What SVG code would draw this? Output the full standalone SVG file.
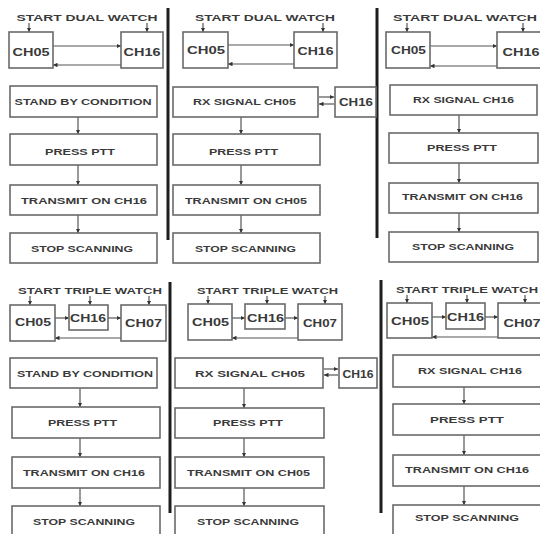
<svg xmlns="http://www.w3.org/2000/svg" width="540" height="534" viewBox="0 0 540 534">
<style>
.b{fill:#fff;stroke:#6a6a6a;stroke-width:1.6}
.c{fill:none;stroke:#555;stroke-width:1.2}
.d{stroke:#1e1e1e;stroke-width:3}
text{font-family:"Liberation Sans",Arial,sans-serif;font-weight:bold;fill:#3a3a3a;text-anchor:middle}
.t{font-size:8.5px}
.h{font-size:9.5px}
.k{font-size:10px}
</style>
<defs>
<marker id="ah" viewBox="0 0 6 6" refX="6" refY="3" markerWidth="4.5" markerHeight="4.5" orient="auto" markerUnits="userSpaceOnUse"><path d="M0,0 L6,3 L0,6 z" fill="#333"/></marker>
</defs>
<rect width="540" height="534" fill="#fff"/>
<g id="dividers">
<line class="d" x1="168" y1="8" x2="168" y2="240"/>
<line class="d" x1="377" y1="8" x2="377" y2="238"/>
<line class="d" x1="170" y1="282" x2="170" y2="513"/>
<line class="d" x1="381" y1="280" x2="381" y2="513"/>
</g>
<g id="connectors" class="c" marker-end="url(#ah)">
<!-- P1 -->
<line x1="29" y1="23" x2="29" y2="32"/><line x1="147" y1="23" x2="147" y2="32"/>
<line x1="53" y1="46" x2="121" y2="46"/><line x1="121" y1="65" x2="53" y2="65"/>
<line x1="78" y1="117" x2="78" y2="134"/><line x1="78" y1="165" x2="78" y2="185"/><line x1="78" y1="215" x2="78" y2="233"/>
<!-- P2 -->
<line x1="203" y1="23" x2="203" y2="32"/><line x1="323" y1="23" x2="323" y2="32"/>
<line x1="228" y1="45" x2="294" y2="45"/><line x1="294" y1="64" x2="228" y2="64"/>
<line x1="319" y1="97" x2="334" y2="97"/><line x1="334" y1="104" x2="319" y2="104"/>
<line x1="241" y1="117" x2="241" y2="134"/><line x1="241" y1="165" x2="241" y2="185"/><line x1="241" y1="215" x2="241" y2="233"/>
<!-- P3 -->
<line x1="407" y1="23" x2="407" y2="32"/><line x1="523" y1="23" x2="523" y2="32"/>
<line x1="430" y1="46" x2="497" y2="46"/><line x1="497" y1="66" x2="430" y2="66"/>
<line x1="459" y1="115" x2="459" y2="133"/><line x1="459" y1="163" x2="459" y2="183"/><line x1="459" y1="213" x2="459" y2="232"/>
<!-- P4 -->
<line x1="30" y1="296" x2="30" y2="305"/><line x1="90" y1="296" x2="90" y2="305"/><line x1="149" y1="296" x2="149" y2="305"/>
<line x1="55" y1="318" x2="69" y2="318"/><line x1="108" y1="318" x2="121" y2="318"/><line x1="121" y1="338" x2="55" y2="338"/>
<line x1="80" y1="388" x2="80" y2="407"/><line x1="80" y1="438" x2="80" y2="457"/><line x1="80" y1="488" x2="80" y2="506"/>
<!-- P5 -->
<line x1="208" y1="296" x2="208" y2="304"/><line x1="267" y1="296" x2="267" y2="304"/><line x1="325" y1="296" x2="325" y2="304"/>
<line x1="232" y1="318" x2="245" y2="318"/><line x1="285" y1="318" x2="298" y2="318"/><line x1="298" y1="338" x2="232" y2="338"/>
<line x1="324" y1="369" x2="338" y2="369"/><line x1="338" y1="375" x2="324" y2="375"/>
<line x1="244" y1="388" x2="244" y2="408"/><line x1="244" y1="438" x2="244" y2="457"/><line x1="244" y1="488" x2="244" y2="506"/>
<!-- P6 -->
<line x1="407" y1="295" x2="407" y2="303"/><line x1="467" y1="295" x2="467" y2="303"/><line x1="525" y1="295" x2="525" y2="303"/>
<line x1="432" y1="317" x2="446" y2="317"/><line x1="485" y1="317" x2="498" y2="317"/><line x1="498" y1="337" x2="432" y2="337"/>
<line x1="464" y1="387" x2="464" y2="404"/><line x1="464" y1="435" x2="464" y2="455"/><line x1="464" y1="486" x2="464" y2="505"/>
</g>
<!-- Panel 1 -->
<g id="p1-title"><text class="h" x="87" y="21" textLength="141" lengthAdjust="spacingAndGlyphs">START DUAL WATCH</text></g>
<g id="p1-ch05"><rect class="b" x="9" y="32" width="44" height="36"/><text class="k" x="31" y="56" textLength="37" lengthAdjust="spacingAndGlyphs">CH05</text></g>
<g id="p1-ch16"><rect class="b" x="121" y="32" width="42" height="36"/><text class="k" x="142" y="56" textLength="37" lengthAdjust="spacingAndGlyphs">CH16</text></g>
<g id="p1-standby"><rect class="b" x="10" y="86" width="147" height="31"/><text class="t" x="83" y="104.5" textLength="137" lengthAdjust="spacingAndGlyphs">STAND BY CONDITION</text></g>
<g id="p1-ptt"><rect class="b" x="10" y="134" width="147" height="31"/><text class="t" x="80" y="154.5" textLength="70" lengthAdjust="spacingAndGlyphs">PRESS PTT</text></g>
<g id="p1-tx"><rect class="b" x="10" y="185" width="147" height="30"/><text class="t" x="84" y="204" textLength="126" lengthAdjust="spacingAndGlyphs">TRANSMIT ON CH16</text></g>
<g id="p1-stop"><rect class="b" x="10" y="233" width="147" height="30"/><text class="t" x="82" y="252" textLength="102" lengthAdjust="spacingAndGlyphs">STOP SCANNING</text></g>
<!-- Panel 2 -->
<g id="p2-title"><text class="h" x="265" y="21" textLength="140" lengthAdjust="spacingAndGlyphs">START DUAL WATCH</text></g>
<g id="p2-ch05"><rect class="b" x="183" y="32" width="45" height="36"/><text class="k" x="206" y="54" textLength="38" lengthAdjust="spacingAndGlyphs">CH05</text></g>
<g id="p2-ch16"><rect class="b" x="294" y="32" width="43" height="36"/><text class="k" x="315.5" y="55" textLength="36" lengthAdjust="spacingAndGlyphs">CH16</text></g>
<g id="p2-rx"><rect class="b" x="173" y="87" width="145" height="30"/><text class="t" x="244.5" y="105" textLength="103" lengthAdjust="spacingAndGlyphs">RX SIGNAL CH05</text></g>
<g id="p2-ch16b"><rect class="b" x="335" y="87" width="41" height="30"/><text class="k" x="356" y="105.5" textLength="34" lengthAdjust="spacingAndGlyphs">CH16</text></g>
<g id="p2-ptt"><rect class="b" x="173" y="134" width="147" height="31"/><text class="t" x="243.5" y="154.5" textLength="69" lengthAdjust="spacingAndGlyphs">PRESS PTT</text></g>
<g id="p2-tx"><rect class="b" x="173" y="185" width="147" height="30"/><text class="t" x="246" y="203.5" textLength="122" lengthAdjust="spacingAndGlyphs">TRANSMIT ON CH05</text></g>
<g id="p2-stop"><rect class="b" x="173" y="233" width="147" height="30"/><text class="t" x="245.5" y="252" textLength="101" lengthAdjust="spacingAndGlyphs">STOP SCANNING</text></g>
<!-- Panel 3 -->
<g id="p3-title"><text class="h" x="465" y="21" textLength="144" lengthAdjust="spacingAndGlyphs">START DUAL WATCH</text></g>
<g id="p3-ch05"><rect class="b" x="386" y="32" width="44" height="36"/><text class="k" x="408.5" y="54" textLength="35" lengthAdjust="spacingAndGlyphs">CH05</text></g>
<g id="p3-ch16"><rect class="b" x="497" y="32" width="45" height="36"/><text class="k" x="521" y="56" textLength="37" lengthAdjust="spacingAndGlyphs">CH16</text></g>
<g id="p3-rx"><rect class="b" x="390" y="85" width="147" height="30"/><text class="t" x="463.5" y="103" textLength="101" lengthAdjust="spacingAndGlyphs">RX SIGNAL CH16</text></g>
<g id="p3-ptt"><rect class="b" x="389" y="133" width="149" height="30"/><text class="t" x="462" y="151" textLength="70" lengthAdjust="spacingAndGlyphs">PRESS PTT</text></g>
<g id="p3-tx"><rect class="b" x="389" y="183" width="149" height="30"/><text class="t" x="462.5" y="200" textLength="121" lengthAdjust="spacingAndGlyphs">TRANSMIT ON CH16</text></g>
<g id="p3-stop"><rect class="b" x="389" y="232" width="149" height="30"/><text class="t" x="463" y="250" textLength="102" lengthAdjust="spacingAndGlyphs">STOP SCANNING</text></g>
<!-- Panel 4 -->
<g id="p4-title"><text class="h" x="90" y="294" textLength="144" lengthAdjust="spacingAndGlyphs">START TRIPLE WATCH</text></g>
<g id="p4-ch05"><rect class="b" x="10" y="305" width="45" height="36"/><text class="k" x="33" y="326" textLength="36" lengthAdjust="spacingAndGlyphs">CH05</text></g>
<g id="p4-ch16"><rect class="b" x="69" y="305" width="39" height="25"/><text class="k" x="88" y="322" textLength="36" lengthAdjust="spacingAndGlyphs">CH16</text></g>
<g id="p4-ch07"><rect class="b" x="121" y="305" width="45" height="36"/><text class="k" x="143.5" y="327" textLength="37" lengthAdjust="spacingAndGlyphs">CH07</text></g>
<g id="p4-standby"><rect class="b" x="10" y="358" width="147" height="30"/><text class="t" x="85" y="377" textLength="136" lengthAdjust="spacingAndGlyphs">STAND BY CONDITION</text></g>
<g id="p4-ptt"><rect class="b" x="12" y="407" width="148" height="31"/><text class="t" x="82.5" y="426" textLength="69" lengthAdjust="spacingAndGlyphs">PRESS PTT</text></g>
<g id="p4-tx"><rect class="b" x="12" y="457" width="148" height="31"/><text class="t" x="84" y="476" textLength="122" lengthAdjust="spacingAndGlyphs">TRANSMIT ON CH16</text></g>
<g id="p4-stop"><rect class="b" x="12" y="506" width="148" height="35"/><text class="t" x="84" y="525" textLength="102" lengthAdjust="spacingAndGlyphs">STOP SCANNING</text></g>
<!-- Panel 5 -->
<g id="p5-title"><text class="h" x="267.5" y="294" textLength="141" lengthAdjust="spacingAndGlyphs">START TRIPLE WATCH</text></g>
<g id="p5-ch05"><rect class="b" x="188" y="304" width="44" height="36"/><text class="k" x="210.5" y="326" textLength="37" lengthAdjust="spacingAndGlyphs">CH05</text></g>
<g id="p5-ch16"><rect class="b" x="245" y="304" width="40" height="25"/><text class="k" x="265.5" y="322" textLength="37" lengthAdjust="spacingAndGlyphs">CH16</text></g>
<g id="p5-ch07"><rect class="b" x="298" y="304" width="44" height="36"/><text class="k" x="320" y="327" textLength="34" lengthAdjust="spacingAndGlyphs">CH07</text></g>
<g id="p5-rx"><rect class="b" x="175" y="358" width="148" height="30"/><text class="t" x="250" y="377" textLength="110" lengthAdjust="spacingAndGlyphs">RX SIGNAL CH05</text></g>
<g id="p5-ch16b"><rect class="b" x="339" y="358" width="38" height="30"/><text class="k" x="358" y="377.5" textLength="31" lengthAdjust="spacingAndGlyphs">CH16</text></g>
<g id="p5-ptt"><rect class="b" x="175" y="408" width="149" height="30"/><text class="t" x="248" y="426" textLength="70" lengthAdjust="spacingAndGlyphs">PRESS PTT</text></g>
<g id="p5-tx"><rect class="b" x="175" y="457" width="149" height="31"/><text class="t" x="248.5" y="476" textLength="123" lengthAdjust="spacingAndGlyphs">TRANSMIT ON CH05</text></g>
<g id="p5-stop"><rect class="b" x="175" y="506" width="149" height="35"/><text class="t" x="248" y="525" textLength="102" lengthAdjust="spacingAndGlyphs">STOP SCANNING</text></g>
<!-- Panel 6 -->
<g id="p6-title"><text class="h" x="467" y="293" textLength="142" lengthAdjust="spacingAndGlyphs">START TRIPLE WATCH</text></g>
<g id="p6-ch05"><rect class="b" x="387" y="303" width="45" height="35"/><text class="k" x="410" y="325" textLength="38" lengthAdjust="spacingAndGlyphs">CH05</text></g>
<g id="p6-ch16"><rect class="b" x="446" y="303" width="39" height="26"/><text class="k" x="465.5" y="321" textLength="37" lengthAdjust="spacingAndGlyphs">CH16</text></g>
<g id="p6-ch07"><rect class="b" x="498" y="303" width="45" height="35"/><text class="k" x="522" y="327" textLength="37" lengthAdjust="spacingAndGlyphs">CH07</text></g>
<g id="p6-rx"><rect class="b" x="393" y="355" width="149" height="32"/><text class="t" x="470" y="374" textLength="104" lengthAdjust="spacingAndGlyphs">RX SIGNAL CH16</text></g>
<g id="p6-ptt"><rect class="b" x="393" y="404" width="149" height="31"/><text class="t" x="467" y="423" textLength="74" lengthAdjust="spacingAndGlyphs">PRESS PTT</text></g>
<g id="p6-tx"><rect class="b" x="393" y="455" width="149" height="31"/><text class="t" x="467" y="473" textLength="124" lengthAdjust="spacingAndGlyphs">TRANSMIT ON CH16</text></g>
<g id="p6-stop"><rect class="b" x="393" y="505" width="149" height="35"/><text class="t" x="467" y="521" textLength="104" lengthAdjust="spacingAndGlyphs">STOP SCANNING</text></g>
</svg>
